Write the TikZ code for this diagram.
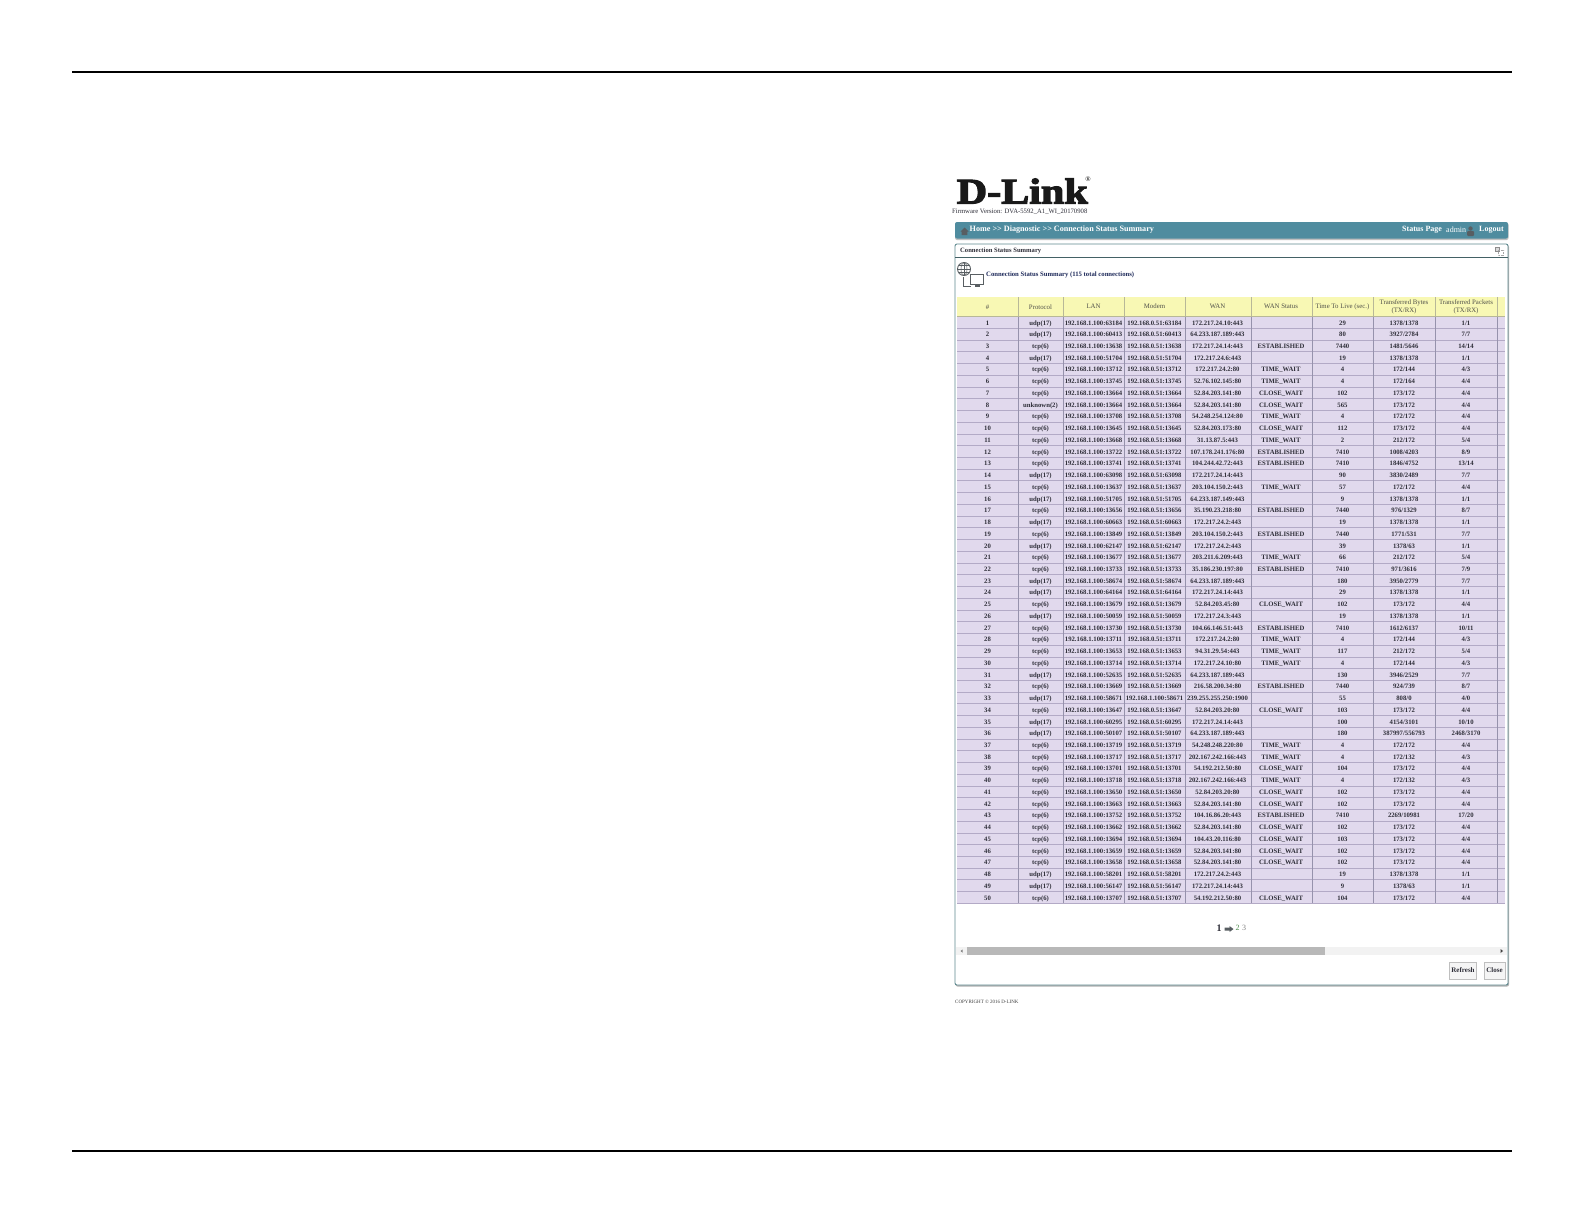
\documentclass[tikz,border=0pt]{standalone}
\usepackage{fontspec}
\setmainfont{Liberation Serif}
\newfontfamily\logofont[FakeBold=3]{Liberation Serif Bold}
\definecolor{barteal}{HTML}{4F8C9F}
\definecolor{panelline}{HTML}{5F8A90}
\definecolor{headyellow}{HTML}{F8F8B4}
\definecolor{rowlilac}{HTML}{E1D9ED}
\definecolor{rowline}{HTML}{B3AAC6}
\definecolor{coldiv}{HTML}{9692AC}
\definecolor{headdiv}{HTML}{B8B898}
\definecolor{ink}{HTML}{2E2E38}
\definecolor{headink}{HTML}{4F4F49}
\definecolor{titleink}{HTML}{1E2A5A}
\definecolor{iconink}{HTML}{585E62}
\newcount\rownum
\rownum=0
\newcommand{\TW}{TIME\_WAIT}
\newcommand{\CW}{CLOSE\_WAIT}
\newcommand{\EST}{ESTABLISHED}
\newcommand{\trow}[8][192.168.0.51]{%
  \global\advance\rownum by 1
  \pgfmathsetmacro{\rowy}{322.8+(\the\rownum-1)*11.735}%
  \node[cell] (n\the\rownum) at (987.5,\rowy) {\the\rownum};
  \node[cell] (p\the\rownum) at (1040.5,\rowy) {#2};
  \node[cell] (l\the\rownum) at (1093.5,\rowy) {192.168.1.100:#3};
  \node[cell] (m\the\rownum) at (1154.5,\rowy) {#1:#3};
  \node[cell] (w\the\rownum) at (1217.5,\rowy) {#4};
  \node[cell] (s\the\rownum) at (1281,\rowy) {#5};
  \node[cell] (t\the\rownum) at (1342.5,\rowy) {#6};
  \node[cell] (b\the\rownum) at (1404,\rowy) {#7};
  \node[cell] (k\the\rownum) at (1466,\rowy) {#8};
}
\tikzset{
  cell/.style={inner sep=0pt,text height=4.5pt,text depth=0pt,font=\fontsize{6.7}{7}\selectfont\bfseries,text=ink,anchor=center},
  headcell/.style={inner sep=0pt,font=\fontsize{6.8}{8}\selectfont,text=headink,anchor=center,align=center},
  btn/.style={draw=black!25,fill=black!4,line width=.8pt,inner sep=0pt,font=\fontsize{7}{8}\selectfont\bfseries,text=ink},
}
\begin{document}
\begin{tikzpicture}[x=1pt,y=-1pt]
\useasboundingbox (0,0) rectangle (1584,1224);
\fill[white] (0,0) rectangle (1584,1224);
% page rules
\draw[line width=1.2pt,black] (72,72) -- (1512,72);
\draw[line width=1.2pt,black] (72,1151) -- (1512,1151);
% logo
\node[inner sep=0pt,anchor=base west,xscale=1.17,font=\fontsize{36}{36}\logofont,text=black!90] (logo) at (956.5,203.5) {D-Link};
\node[inner sep=0pt,font=\fontsize{7}{7}\selectfont,text=black] (reg) at (1088,179) {®};
\node[inner sep=0pt,anchor=west,font=\fontsize{6.7}{7}\selectfont,text=ink] (fw) at (952,211.5) {Firmware Version: DVA-5592\_A1\_WI\_20170908};
% header bar
\fill[black!25,rounded corners=2pt] (955,223) rectangle (1508.5,240);
\fill[barteal,rounded corners=2pt] (955,222) rectangle (1508,238.5);
% home icon
\fill[iconink] (960.5,231.5) -- (964.5,227.5) -- (968.5,231.5) -- (967.3,231.5) -- (967.3,235) -- (961.7,235) -- (961.7,231.5) -- cycle;
\node[inner sep=0pt,anchor=west,font=\fontsize{8.15}{9}\selectfont\bfseries,text=white] (crumb) at (969.5,230) {Home >{}> Diagnostic >{}> Connection Status Summary};
\node[inner sep=0pt,anchor=west,font=\fontsize{8}{9}\selectfont\bfseries,text=white] (stat) at (1402,230) {Status Page};
\node[inner sep=0pt,anchor=west,font=\fontsize{8}{9}\selectfont,text=white] (adm) at (1446,230) {admin};
\fill[iconink] (1470.5,228.5) circle (2.2);
\fill[iconink,rounded corners=1pt] (1467,236) rectangle (1474,231);
\node[inner sep=0pt,anchor=west,font=\fontsize{8}{9}\selectfont\bfseries,text=white] (logout) at (1479,230) {Logout};
% panel
\fill[black!30,rounded corners=2pt] (955.5,245) rectangle (1509,986.5);
\fill[white,draw=panelline,line width=.9pt,rounded corners=2pt] (955,244) rectangle (1508,985);
\draw[panelline!70!black,line width=.8pt] (955,257.5) -- (1508,257.5);
\node[inner sep=0pt,anchor=west,font=\fontsize{6.6}{8}\selectfont\bfseries,text=ink] (ptitle) at (960,250.5) {Connection Status Summary};
% window icon
\draw[black!45,line width=.7pt,fill=black!15] (1495.5,247) rectangle (1499,251.5);
\draw[black!35,line width=.5pt,densely dotted] (1498,250) rectangle (1503.5,255);
% globe + monitors icon
\draw[iconink,line width=.9pt] (964,269) circle (6.5);
\draw[iconink,line width=.5pt] (957.5,269) -- (970.5,269) (964,262.5) -- (964,275.5)
  (958.5,265.5) -- (969.5,265.5) (958.5,272.5) -- (969.5,272.5);
\draw[iconink,line width=.5pt] (964,269) ellipse (3 and 6.5);
\draw[iconink,line width=.6pt] (963.5,277) -- (963.5,286.5) -- (971,286.5);
\draw[iconink,line width=.7pt,fill=white] (970.5,274.5) rectangle (983.5,284.5);
\fill[iconink] (974.5,285) rectangle (979.5,287);
\node[inner sep=0pt,anchor=west,font=\fontsize{6.7}{8}\selectfont\bfseries,text=titleink] (psub) at (986,274.5) {Connection Status Summary (115 total connections)};
% table header
\fill[headyellow] (957,297) rectangle (1505,317);
\fill[rowlilac] (957,316.5) rectangle (1505,903.5);
% horizontal row lines
\foreach \i in {1,...,49}{
  \pgfmathsetmacro{\yy}{316.45+\i*11.735}
  \draw[rowline,line width=.5pt] (957,\yy) -- (1505,\yy);
}
\draw[rowline,line width=.7pt] (957,903.4) -- (1505,903.4);
\draw[headdiv,line width=.5pt] (957,316.5) -- (1505,316.5);
% column dividers
\foreach \x in {1018,1063,1124,1185,1251,1312,1373,1435,1497}{
  \draw[headdiv,line width=.6pt] (\x,297) -- (\x,316.5);
  \draw[coldiv,line width=.55pt] (\x,316.5) -- (\x,903.4);
}
% header labels
\node[headcell] (h0) at (987.5,307) {\#};
\node[headcell] (h1) at (1040.5,307) {Protocol};
\node[headcell] (h2) at (1093.5,306.5) {LAN};
\node[headcell] (h3) at (1154.5,306.5) {Modem};
\node[headcell] (h4) at (1217.5,306.5) {WAN};
\node[headcell] (h5) at (1281,306.5) {WAN Status};
\node[headcell] (h6) at (1342.5,306.5) {Time To Live (sec.)};
\node[headcell] (h7) at (1404,306.5) {Transferred Bytes\\(TX/RX)};
\node[headcell] (h8) at (1466,306.5) {Transferred Packets\\(TX/RX)};
% rows
\trow{udp(17)}{63184}{172.217.24.10:443}{}{29}{1378/1378}{1/1}
\trow{udp(17)}{60413}{64.233.187.189:443}{}{80}{3927/2784}{7/7}
\trow{tcp(6)}{13638}{172.217.24.14:443}{\EST}{7440}{1481/5646}{14/14}
\trow{udp(17)}{51704}{172.217.24.6:443}{}{19}{1378/1378}{1/1}
\trow{tcp(6)}{13712}{172.217.24.2:80}{\TW}{4}{172/144}{4/3}
\trow{tcp(6)}{13745}{52.76.102.145:80}{\TW}{4}{172/164}{4/4}
\trow{tcp(6)}{13664}{52.84.203.141:80}{\CW}{102}{173/172}{4/4}
\trow{unknown(2)}{13664}{52.84.203.141:80}{\CW}{565}{173/172}{4/4}
\trow{tcp(6)}{13708}{54.248.254.124:80}{\TW}{4}{172/172}{4/4}
\trow{tcp(6)}{13645}{52.84.203.173:80}{\CW}{112}{173/172}{4/4}
\trow{tcp(6)}{13668}{31.13.87.5:443}{\TW}{2}{212/172}{5/4}
\trow{tcp(6)}{13722}{107.178.241.176:80}{\EST}{7410}{1008/4203}{8/9}
\trow{tcp(6)}{13741}{104.244.42.72:443}{\EST}{7410}{1846/4752}{13/14}
\trow{udp(17)}{63098}{172.217.24.14:443}{}{90}{3830/2489}{7/7}
\trow{tcp(6)}{13637}{203.104.150.2:443}{\TW}{57}{172/172}{4/4}
\trow{udp(17)}{51705}{64.233.187.149:443}{}{9}{1378/1378}{1/1}
\trow{tcp(6)}{13656}{35.190.23.218:80}{\EST}{7440}{976/1329}{8/7}
\trow{udp(17)}{60663}{172.217.24.2:443}{}{19}{1378/1378}{1/1}
\trow{tcp(6)}{13849}{203.104.150.2:443}{\EST}{7440}{1771/531}{7/7}
\trow{udp(17)}{62147}{172.217.24.2:443}{}{39}{1378/63}{1/1}
\trow{tcp(6)}{13677}{203.211.6.209:443}{\TW}{66}{212/172}{5/4}
\trow{tcp(6)}{13733}{35.186.230.197:80}{\EST}{7410}{971/3616}{7/9}
\trow{udp(17)}{58674}{64.233.187.189:443}{}{180}{3950/2779}{7/7}
\trow{udp(17)}{64164}{172.217.24.14:443}{}{29}{1378/1378}{1/1}
\trow{tcp(6)}{13679}{52.84.203.45:80}{\CW}{102}{173/172}{4/4}
\trow{udp(17)}{50059}{172.217.24.3:443}{}{19}{1378/1378}{1/1}
\trow{tcp(6)}{13730}{104.66.146.51:443}{\EST}{7410}{1612/6137}{10/11}
\trow{tcp(6)}{13711}{172.217.24.2:80}{\TW}{4}{172/144}{4/3}
\trow{tcp(6)}{13653}{94.31.29.54:443}{\TW}{117}{212/172}{5/4}
\trow{tcp(6)}{13714}{172.217.24.10:80}{\TW}{4}{172/144}{4/3}
\trow{udp(17)}{52635}{64.233.187.189:443}{}{130}{3946/2529}{7/7}
\trow{tcp(6)}{13669}{216.58.200.34:80}{\EST}{7440}{924/739}{8/7}
\trow[192.168.1.100]{udp(17)}{58671}{239.255.255.250:1900}{}{55}{808/0}{4/0}
\trow{tcp(6)}{13647}{52.84.203.20:80}{\CW}{103}{173/172}{4/4}
\trow{udp(17)}{60295}{172.217.24.14:443}{}{100}{4154/3101}{10/10}
\trow{udp(17)}{50107}{64.233.187.189:443}{}{180}{387997/556793}{2468/3170}
\trow{tcp(6)}{13719}{54.248.248.220:80}{\TW}{4}{172/172}{4/4}
\trow{tcp(6)}{13717}{202.167.242.166:443}{\TW}{4}{172/132}{4/3}
\trow{tcp(6)}{13701}{54.192.212.50:80}{\CW}{104}{173/172}{4/4}
\trow{tcp(6)}{13718}{202.167.242.166:443}{\TW}{4}{172/132}{4/3}
\trow{tcp(6)}{13650}{52.84.203.20:80}{\CW}{102}{173/172}{4/4}
\trow{tcp(6)}{13663}{52.84.203.141:80}{\CW}{102}{173/172}{4/4}
\trow{tcp(6)}{13752}{104.16.86.20:443}{\EST}{7410}{2269/10981}{17/20}
\trow{tcp(6)}{13662}{52.84.203.141:80}{\CW}{102}{173/172}{4/4}
\trow{tcp(6)}{13694}{104.43.20.116:80}{\CW}{103}{173/172}{4/4}
\trow{tcp(6)}{13659}{52.84.203.141:80}{\CW}{102}{173/172}{4/4}
\trow{tcp(6)}{13658}{52.84.203.141:80}{\CW}{102}{173/172}{4/4}
\trow{udp(17)}{58201}{172.217.24.2:443}{}{19}{1378/1378}{1/1}
\trow{udp(17)}{56147}{172.217.24.14:443}{}{9}{1378/63}{1/1}
\trow{tcp(6)}{13707}{54.192.212.50:80}{\CW}{104}{173/172}{4/4}
% pager
\node[inner sep=0pt,font=\fontsize{10}{10}\selectfont\bfseries,text=ink] (pg1) at (1219,928) {1};
\fill[iconink] (1224.5,927.5) rectangle (1229.5,930.5) (1229.5,926) -- (1233.5,929) -- (1229.5,932) -- cycle;
\node[inner sep=0pt,font=\fontsize{8}{8}\selectfont,text=green!35!black!70] (pg2) at (1237.5,928) {2};
\node[inner sep=0pt,font=\fontsize{8}{8}\selectfont,text=black!50] (pg3) at (1244,928) {3};
% scrollbar
\fill[black!5] (956,947) rectangle (1507,955);
\fill[black!28] (966.5,947) rectangle (1325,955);
\fill[black!50] (962.5,949.5) -- (960.5,951) -- (962.5,952.5) -- cycle;
\fill[black!75] (1500.5,949) -- (1503,951) -- (1500.5,953) -- cycle;
% buttons
\node[btn,minimum width=27.5pt,minimum height=17pt] (refresh) at (1463,970.5) {Refresh};
\node[btn,minimum width=21pt,minimum height=17pt] (close) at (1494.5,970.5) {Close};
% copyright
\node[inner sep=0pt,anchor=west,font=\fontsize{5}{5}\selectfont,text=black!75] (copy) at (955,1002) {COPYRIGHT © 2016 D-LINK};
\end{tikzpicture}
\end{document}
